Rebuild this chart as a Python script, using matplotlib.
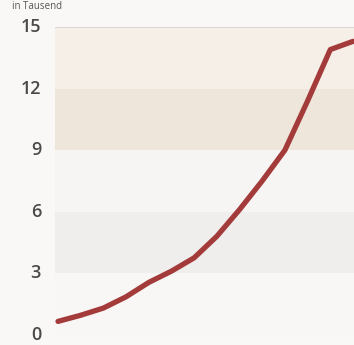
import matplotlib

matplotlib.use("Agg")
import matplotlib.pyplot as plt

# values in thousands, one per year
years = list(range(1996, 2010))
values = [0.65, 0.95, 1.3, 1.85, 2.55, 3.1, 3.75, 4.8, 6.1, 7.5, 9.0, 11.4, 13.9, 14.3]
y_ticks = [0, 3, 6, 9, 12, 15]
band_colors = ["#f8f7f6", "#efeeec", "#f7f5f4", "#efe6db", "#f6efe8"]

W, H = 354, 345
fig = plt.figure(figsize=(W / 100, H / 100), dpi=100, facecolor="#faf8f6")
ax = fig.add_axes([55 / W, 0, (W - 55) / W, 318 / H])
ax.set_facecolor("#faf8f6")

for i, color in enumerate(band_colors):
    ax.axhspan(y_ticks[i], y_ticks[i + 1], color=color, zorder=0, linewidth=0)
ax.axhline(15, color="#d6d2ce", linewidth=1.2, zorder=1)

ax.plot(years, values, color="#a43b3b", linewidth=3.8, solid_capstyle="round",
        solid_joinstyle="round", zorder=3)

ax.set_xlim(1996 - 3 / 22.7, 2009 + 1 / 22.7)
ax.set_ylim(-0.5, 15)
ax.set_xticks([])
ax.set_yticks([])
for spine in ax.spines.values():
    spine.set_visible(False)

for t in y_ticks:
    fig.text(41 / W, ax.transData.transform((0, t))[1] / H, str(t),
             ha="right", va="center", fontsize=13, color="#4a4a4a",
             family="Open Sans", fontweight="semibold")
fig.text(12 / W, 1 - 1 / H, "in Tausend", ha="left", va="top", fontsize=7,
         color="#555555", family="Open Sans")

fig.savefig("out.png", dpi=100, facecolor=fig.get_facecolor())
